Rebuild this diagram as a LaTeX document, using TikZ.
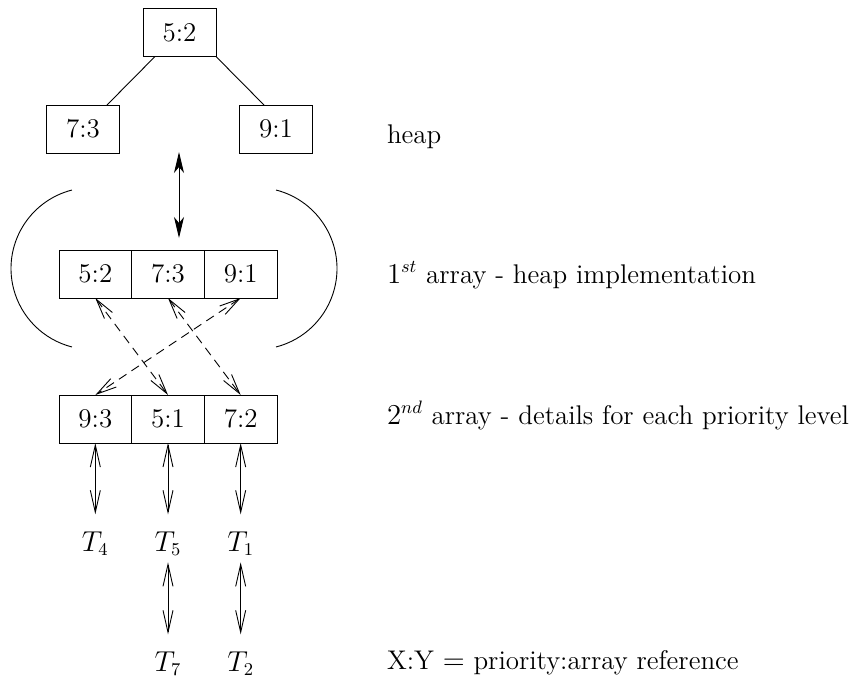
\documentclass[tikz,border=0pt]{standalone}
\usetikzlibrary{arrows.meta}
\begin{document}
\begin{tikzpicture}[x=0.5pt,y=-0.5pt,
  line width=0.45pt,
  font=\fontsize{13.5}{16}\selectfont,
  every node/.style={inner sep=0pt, outer sep=0pt},
  heapbox/.style={draw, minimum width=36.5pt, minimum height=24pt},
  cell/.style={draw, minimum width=36.33pt, minimum height=24pt},
  caption/.style={anchor=base west},
  task/.style={anchor=base},
  barb/.tip={Straight Barb[length=11pt,width=5pt]},
  dbl/.style={barb-barb},
  ptr/.style={{Straight Barb[length=10pt,width=5pt]}-{Straight Barb[length=10pt,width=5pt]}, dash pattern=on 4.5pt off 3pt},
  solidarrow/.style={{Stealth[length=10.5pt,width=5pt,inset=3pt]}-{Stealth[length=10.5pt,width=5pt,inset=3pt]}}]

\useasboundingbox (0,0) rectangle (854,681);

% heap as a tree
\node[heapbox] (root) at (179.5,32.5) {5:2};
\node[heapbox] (hl) at (83,129) {7:3};
\node[heapbox] (hr) at (276,129) {9:1};
\draw ([xshift=-12.25pt]root.south) -- ([xshift=12pt]hl.north);
\draw (root.south east) -- ([xshift=-6pt]hr.north);
\node[caption] (lheap) at (387,143) {heap};

% correspondence between tree and first array
\coordinate (up) at (179,152);
\coordinate (down) at (179,238);
\draw[solidarrow] (up) -- (down);

% first array: heap implementation
\node[cell] (a1) at (95.33,274) {5:2};
\node[cell] (a2) at (168,274) {7:3};
\node[cell] (a3) at (240.67,274) {9:1};
\node[caption] (lfirst) at (387,283) {$1^{st}$ array - heap implementation};

% brackets round the first array
\draw (72,190) arc[start angle=255.7, end angle=104.3, radius=81];
\draw (276,190) arc[start angle=-75.7, end angle=75.7, radius=81];

% second array: details for each priority level
\node[cell] (b1) at (95.33,419) {9:3};
\node[cell] (b2) at (168,419) {5:1};
\node[cell] (b3) at (240.67,419) {7:2};
\node[caption] (lsecond) at (387,424) {$2^{nd}$ array - details for each priority level};

% array references
\draw[ptr] (a1.south) -- (b2.north);
\draw[ptr] (a2.south) -- (b3.north);
\draw[ptr] (a3.south) -- (b1.north);

% task lists
\node[task] (t4) at (95.33,551) {$T_4$};
\node[task] (t5) at (168,551) {$T_5$};
\node[task] (t1) at (240.67,551) {$T_1$};
\node[task] (t7) at (168,671) {$T_7$};
\node[task] (t2) at (240.67,671) {$T_2$};

\draw[dbl, shorten >=8.5pt] (b1.south) -- (b1.south |- t4.north);
\draw[dbl, shorten >=8.5pt] (b2.south) -- (b2.south |- t5.north);
\draw[dbl, shorten >=8.5pt] (b3.south) -- (b3.south |- t1.north);
\draw[dbl, shorten <=3.5pt, shorten >=8.5pt] (b2.south |- t5.south) -- (b2.south |- t7.north);
\draw[dbl, shorten <=3.5pt, shorten >=8.5pt] (b3.south |- t1.south) -- (b3.south |- t2.north);

\node[caption] (lkey) at (387,669) {X:Y $=$ priority:array reference};
\end{tikzpicture}
\end{document}
